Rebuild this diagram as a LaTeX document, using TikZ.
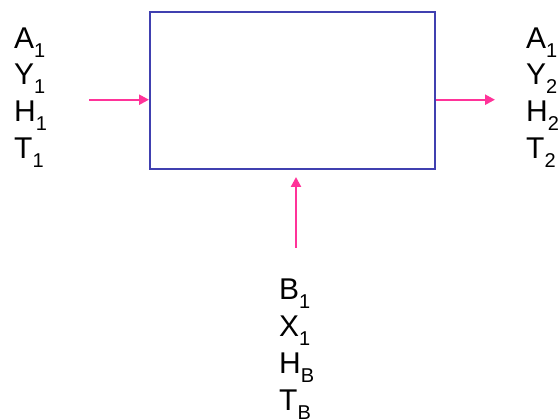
\documentclass[tikz,border=0pt]{standalone}
\usepackage{fontspec}
\setmainfont{Liberation Sans}
\usetikzlibrary{arrows.meta}
\definecolor{boxblue}{HTML}{4040B0}
\definecolor{arrowpink}{HTML}{FF3399}
\newcommand{\lsub}[1]{\raisebox{-9pt}{\fontsize{20}{20}\selectfont #1}}
\tikzset{
  lbl/.style={anchor=base west, inner sep=0pt, font=\fontsize{30}{36}\selectfont},
  flow/.style={draw=arrowpink, line width=2.3pt, -{Triangle[length=10pt,width=10pt]}},
  procbox/.style={draw=boxblue, line width=1.8pt, minimum width=285pt, minimum height=157pt, inner sep=0pt, anchor=north west}
}
\begin{document}
\begin{tikzpicture}[x=1pt,y=-1pt]
\useasboundingbox (0,0) rectangle (560,419);
\node[procbox] (box) at (149,11.5) {};
% left labels
\node[lbl] (l1) at (14,48.3) {A\lsub{1}};
\node[lbl] (l2) at (14,85) {Y\lsub{1}};
\node[lbl] (l3) at (14,121.7) {H\lsub{1}};
\node[lbl] (l4) at (14,158.4) {T\lsub{1}};
% right labels
\node[lbl] (r1) at (526,48.3) {A\lsub{1}};
\node[lbl] (r2) at (526,85) {Y\lsub{2}};
\node[lbl] (r3) at (526,121.7) {H\lsub{2}};
\node[lbl] (r4) at (526,158.4) {T\lsub{2}};
% bottom labels
\node[lbl] (b1) at (279,300) {B\lsub{1}};
\node[lbl] (b2) at (279,336.7) {X\lsub{1}};
\node[lbl] (b3) at (279,373.4) {H\lsub{B}};
\node[lbl] (b4) at (279,410.1) {T\lsub{B}};
% arrows
\coordinate (inT) at (89,99.7);
\coordinate (outH) at (495,99.7);
\coordinate (botT) at (296,248);
\coordinate (botH) at (296,177);
\draw[flow] (inT) -- (inT -| box.west);
\draw[flow] (box.east |- outH) -- (outH);
\draw[flow] (botT) -- (botH);
\end{tikzpicture}
\end{document}
